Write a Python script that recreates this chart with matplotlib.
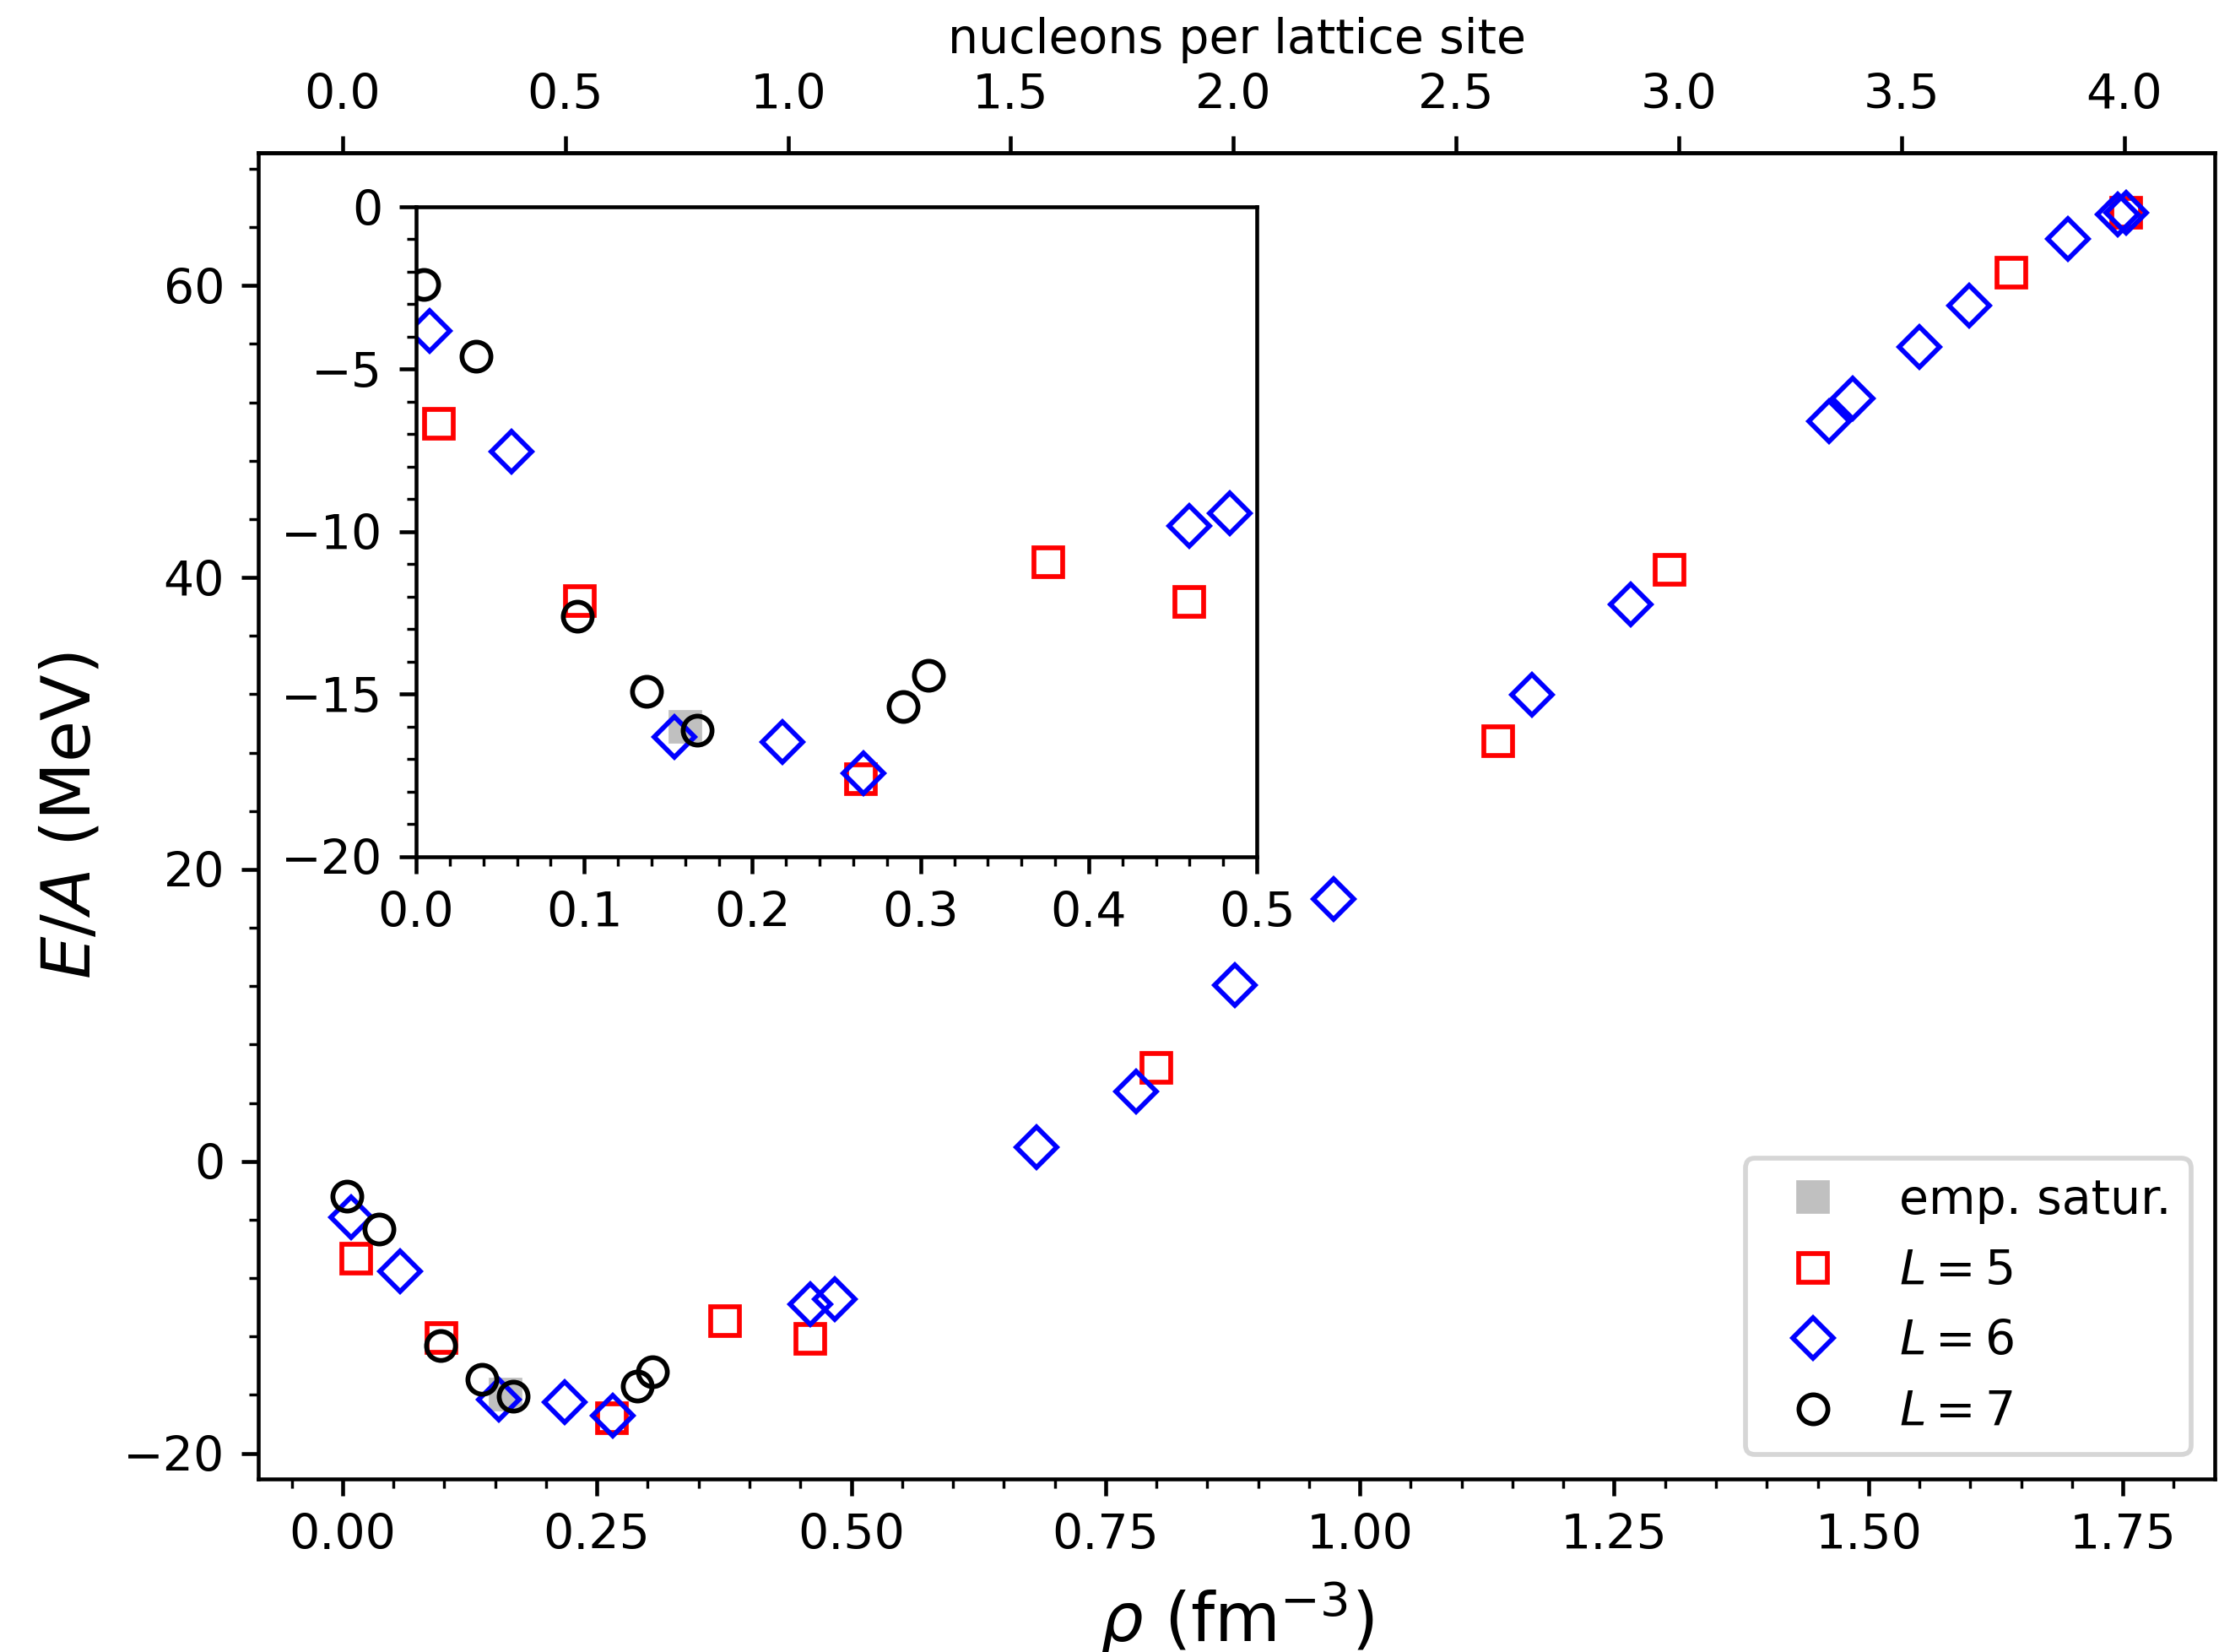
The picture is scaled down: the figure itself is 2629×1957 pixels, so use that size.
import matplotlib
matplotlib.use("Agg")
import matplotlib.pyplot as plt
from matplotlib.ticker import MultipleLocator, NullLocator

# density (fm^-3) and energy per nucleon (MeV) for each box size
rho_L5 = [0.0138, 0.0972, 0.2646, 0.376, 0.4597, 0.7997, 1.136, 1.304, 1.6407, 1.753]
ea_L5 = [-6.68, -12.12, -17.62, -10.95, -12.15, 6.43, 28.8, 40.53, 60.86, 64.96]

rho_L6 = [0.0081, 0.0568, 0.1536, 0.218, 0.266, 0.4597, 0.4839, 0.6824, 0.7798,
          0.8769, 0.9743, 1.169, 1.2666, 1.4613, 1.4848, 1.55, 1.5985, 1.696,
          1.7447, 1.753]
ea_L6 = [-3.83, -7.53, -16.31, -16.48, -17.43, -9.81, -9.42, 0.96, 4.76,
         12.08, 17.97, 31.96, 38.16, 50.72, 52.27, 55.78, 58.6, 63.18,
         64.86, 64.96]

rho_L7 = [0.0046, 0.0357, 0.096, 0.137, 0.1674, 0.2896, 0.3045]
ea_L7 = [-2.40, -4.61, -12.6, -14.91, -16.11, -15.39, -14.43]

# empirical saturation point
rho_sat = [0.16]
ea_sat = [-16.0]

# fm^-3 corresponding to one nucleon per lattice site
rho_site = 0.4378


def draw(ax):
    ax.plot(rho_sat, ea_sat, 's', color='silver', ms=6, label='emp. satur.')
    ax.plot(rho_L5, ea_L5, 's', mfc='none', mec='red', ms=6, mew=1.0, label='$L = 5$')
    ax.plot(rho_L6, ea_L6, 'D', mfc='none', mec='blue', ms=6, mew=1.0, label='$L = 6$')
    ax.plot(rho_L7, ea_L7, 'o', mfc='none', mec='black', ms=6, mew=1.0, label='$L = 7$')


fig = plt.figure(figsize=(6.4, 4.764), dpi=410.8)
ax = fig.add_axes([0.1164, 0.1048, 0.8817, 0.8027])
draw(ax)
ax.xaxis.set_major_locator(MultipleLocator(0.25))
ax.xaxis.set_minor_locator(MultipleLocator(0.05))
ax.yaxis.set_major_locator(MultipleLocator(20))
ax.yaxis.set_minor_locator(MultipleLocator(4))
ax.set_xlabel(r'$\rho$ (fm$^{-3}$)', fontsize=14)
ax.set_ylabel('$E/A$ (MeV)', fontsize=14)
ax.legend(loc='lower right')

top = ax.secondary_xaxis('top', functions=(lambda r: r / rho_site, lambda n: n * rho_site))
top.xaxis.set_major_locator(MultipleLocator(0.5))
top.xaxis.set_minor_locator(NullLocator())
top.set_xlabel('nucleons per lattice site')

# zoom on the saturation region
ins = fig.add_axes([0.1875, 0.4814, 0.3789, 0.3934])
draw(ins)
ins.set_xlim(0, 0.5)
ins.set_ylim(-20, 0)
ins.xaxis.set_major_locator(MultipleLocator(0.1))
ins.xaxis.set_minor_locator(MultipleLocator(0.02))
ins.yaxis.set_major_locator(MultipleLocator(5))
ins.yaxis.set_minor_locator(MultipleLocator(1))

fig.savefig('out.png', dpi=410.8)
